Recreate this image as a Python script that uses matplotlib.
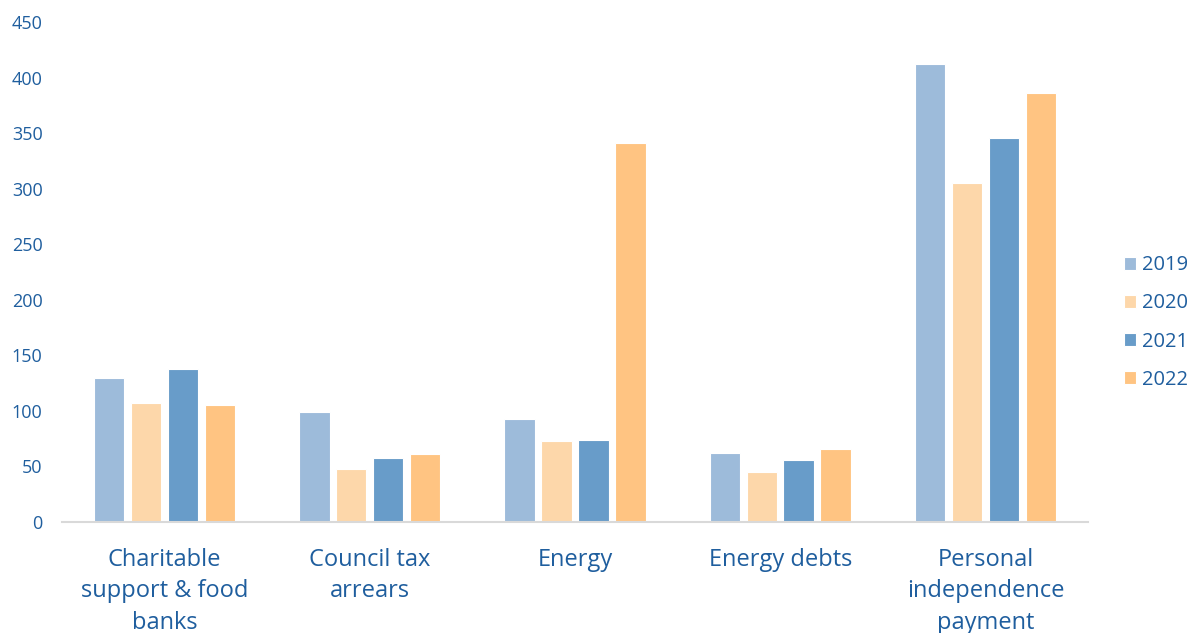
import numpy as np
import matplotlib.pyplot as plt

plt.rcParams['font.family'] = ['Open Sans', 'DejaVu Sans']

categories = ['Charitable\nsupport & food\nbanks', 'Council tax\narrears', 'Energy',
              'Energy debts', 'Personal\nindependence\npayment']
years = ['2019', '2020', '2021', '2022']
v2019 = [130, 99, 93, 62, 412]
v2020 = [107, 48, 73, 45, 305]
v2021 = [138, 58, 74, 56, 346]
v2022 = [105, 61, 341, 66, 386]

colors = ['#9DBBDA', '#FDD7AA', '#689CC9', '#FFC482']
text_col = '#1F5E9E'

fig = plt.figure(figsize=(11.87, 6.33), dpi=100)
ax = fig.add_axes([0.0522, 0.1754, 0.8644, 0.7898])

x = np.arange(len(categories))
step = 0.18
width = 0.148
for i, (vals, yr) in enumerate(zip([v2019, v2020, v2021, v2022], years)):
    ax.bar(x + (i - 1.5) * step, vals, width, color=colors[i], label=yr,
           edgecolor='white', linewidth=0.8)

ax.set_xlim(-0.5, 4.5)
ax.set_ylim(0, 450)
ax.set_yticks(range(0, 451, 50))
for s in ['top', 'right', 'left']:
    ax.spines[s].set_visible(False)
ax.spines['bottom'].set_color('#D9D9D9')
ax.spines['bottom'].set_linewidth(1.5)
ax.tick_params(axis='y', length=0, labelsize=13, labelcolor=text_col, pad=14)
ax.tick_params(axis='x', length=0)
ax.set_xticks(x)
ax.set_xticklabels([])
for xi, lab in zip(x, categories):
    ax.annotate(lab, (xi, 0), xycoords=('data', 'axes fraction'),
                xytext=(0, -18.5), textcoords='offset points', ha='center', va='top',
                fontsize=17, color=text_col, linespacing=1.43)

leg = ax.legend(loc='center left', bbox_to_anchor=(1.017, 0.399), frameon=False,
                fontsize=14.5, handlelength=0.6, handleheight=0.6, handletextpad=0.3,
                labelspacing=0.9)
for t in leg.get_texts():
    t.set_color(text_col)

fig.savefig('out.png', dpi=100)
